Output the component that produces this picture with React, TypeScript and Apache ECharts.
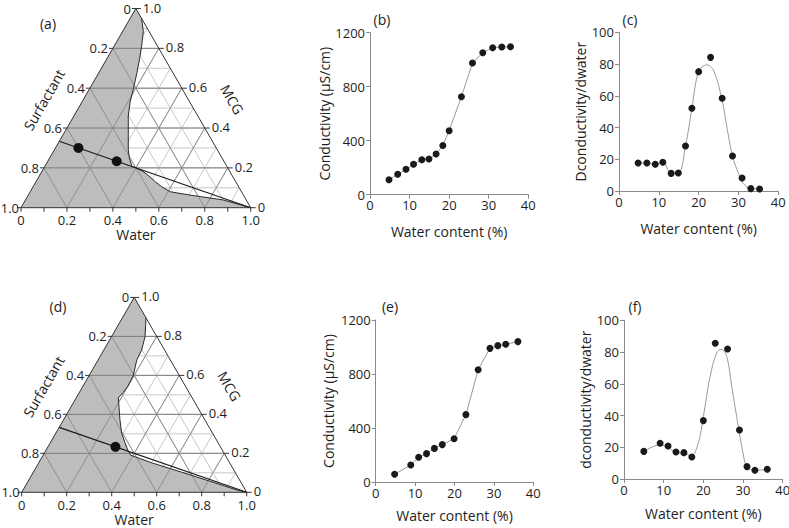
import React, { useEffect, useRef } from "react";
import * as echarts from "echarts";

const FONT = '"Open Sans", "Noto Sans", sans-serif';
const TEXT = "#1e1e1e";
const AXIS = "#8a8a8a";

// ---------- Ternary diagrams (a) and (d): points are [water, MCG]; surfactant = 1 - water - MCG
const ternaryTicks = [0, 0.2, 0.4, 0.6, 0.8, 1.0];
const ternaryTickLabels = ["0", "0.2", "0.4", "0.6", "0.8", "1.0"];
const boundaryA = [
  [0.05, 0.95], [0.09, 0.885], [0.12, 0.81], [0.14, 0.755], [0.167, 0.674], [0.19, 0.6],
  [0.21, 0.53], [0.237, 0.46], [0.267, 0.4], [0.297, 0.34], [0.322, 0.29], [0.35, 0.245],
  [0.38, 0.207], [0.4, 0.2], [0.44, 0.182], [0.47, 0.164], [0.52, 0.13], [0.56, 0.105],
  [0.61, 0.08], [0.7, 0.064], [0.86, 0.039], [1, 0],
];
const boundaryD = [
  [0.105, 0.895], [0.149, 0.798], [0.168, 0.73], [0.172, 0.679], [0.196, 0.6], [0.2, 0.545],
  [0.195, 0.514], [0.187, 0.485], [0.25, 0.373], [0.292, 0.304], [0.333, 0.253], [0.369, 0.21],
  [0.39, 0.19], [0.5, 0.152], [0.66, 0.103], [0.83, 0.05], [0.95, 0.012], [1, 0],
];
const dilutionLine = [[0, 0.3333], [1, 0]];
const dotsA = [[0.1, 0.3], [0.3, 0.2333]];
const dotsD = [[0.3, 0.2333]];

// ---------- (b) conductivity and (c) derivative
const waterB = [4.8, 7.0, 9.1, 11.0, 13.1, 14.9, 16.7, 18.4, 20.0, 23.1, 25.9, 28.5, 31.0, 33.3, 35.5];
const condB = [111, 151, 188, 225, 259, 264, 301, 365, 474, 726, 975, 1052, 1089, 1094, 1096];
const waterC = [4.8, 7.0, 9.1, 11.0, 13.1, 14.9, 16.7, 18.3, 20.0, 23.0, 25.9, 28.5, 30.9, 33.1, 35.3];
const derivC = [17.6, 17.6, 16.8, 18.1, 11.1, 11.3, 28.4, 52.1, 75.2, 84.2, 58.4, 22.1, 8.2, 1.5, 1.3];
const fitCx = [4.8, 7.0, 9.1, 11.0, 13.1, 14.9, 16.7, 18.3, 19.7, 20.9, 22.1, 23.8, 25.9, 27.0, 28.5, 30.0, 31.2, 33.1, 35.3];
const fitCy = [17.6, 17.6, 16.8, 18.1, 11.1, 11.3, 28.4, 52.1, 73, 78.4, 79.4, 75.6, 57, 41.6, 22.1, 11.1, 4.8, 1.5, 1.3];

// ---------- (e) conductivity and (f) derivative
const waterE = [4.8, 8.9, 10.9, 12.9, 14.9, 16.9, 19.9, 22.9, 26.0, 29.0, 31.0, 33.0, 36.1];
const condE = [57, 126, 183, 210, 249, 277, 321, 499, 832, 990, 1010, 1020, 1040];
const waterF = [5.0, 9.1, 11.1, 13.1, 15.1, 17.1, 20.0, 23.0, 26.1, 29.1, 31.0, 33.0, 36.1];
const derivF = [17.4, 22.5, 20.8, 17.0, 16.6, 13.9, 36.8, 85.5, 81.9, 30.9, 7.8, 5.5, 6.1];
const fitFx = [5.0, 9.1, 11.1, 13.1, 15.1, 16.9, 18.7, 20.0, 21.7, 23.4, 24.5, 25.9, 27.1, 28.4, 30.1, 31.0, 33.0, 36.1];
const fitFy = [17.4, 21.4, 20.0, 16.6, 16.2, 14.7, 22.5, 39.3, 64.5, 79.6, 81.7, 77.1, 59.2, 39.3, 15.1, 7.8, 5.5, 6.1];

const xTicks = [0, 10, 20, 30, 40];

const zip = (xs: number[], ys: number[]) => xs.map((x, i) => [x, ys[i]]);
const toCart = (pts: number[][]) => pts.map(([w, m]) => [w + m / 2, m]);

function makeTernaryRender(boundary: number[][]) {
  return (_params: any, api: any) => {
    const P = (w: number, m: number) => api.coord([w + m / 2, m]) as number[];
    const ch: any[] = [];
    const seg = (a: number[], b: number[], stroke: string, lw = 1) => ({
      type: "line",
      silent: true,
      shape: { x1: a[0], y1: a[1], x2: b[0], y2: b[1] },
      style: { stroke, lineWidth: lw },
    });
    const txt = (x: number, y: number, text: string, align: string, vAlign: string, rotation = 0, size = 13) => ({
      type: "text",
      silent: true,
      x,
      y,
      rotation,
      style: {
        text,
        x: 0,
        y: 0,
        fill: TEXT,
        font: `${size}px ${FONT}`,
        align,
        verticalAlign: vAlign,
        textAlign: align,
        textVerticalAlign: vAlign,
      },
    });
    // minor grid
    for (let i = 1; i <= 9; i++) {
      const v = i / 10;
      ch.push(seg(P(0, v), P(1 - v, v), "#c8c8c8"));
      ch.push(seg(P(v, 0), P(v, 1 - v), "#c8c8c8"));
      ch.push(seg(P(v, 0), P(0, v), "#c8c8c8"));
    }
    // grey (single phase) region
    const poly = [P(0, 0), P(0, 1), ...boundary.map(([w, m]) => P(w, m))];
    ch.push({ type: "polygon", silent: true, shape: { points: poly }, style: { fill: "#bdbdbd" } });
    // major grid
    for (let i = 2; i <= 8; i += 2) {
      const v = i / 10;
      ch.push(seg(P(0, v), P(1 - v, v), "#7c7c7c"));
      ch.push(seg(P(v, 0), P(v, 1 - v), "#8e8e8e"));
      ch.push(seg(P(v, 0), P(0, v), "#8e8e8e"));
    }
    // boundary
    ch.push({
      type: "polyline",
      silent: true,
      shape: { points: boundary.map(([w, m]) => P(w, m)) },
      style: { stroke: "#2a2a2a", lineWidth: 1, fill: "none" },
    });
    // dilution line
    ch.push(seg(P(dilutionLine[0][0], dilutionLine[0][1]), P(dilutionLine[1][0], dilutionLine[1][1]), "#1a1a1a", 1.2));
    // outline
    ch.push({
      type: "polygon",
      silent: true,
      shape: { points: [P(0, 0), P(1, 0), P(0, 1)] },
      style: { fill: "none", stroke: "#333", lineWidth: 1 },
    });
    // bottom ticks
    for (let i = 0; i <= 10; i++) {
      const p = P(i / 10, 0);
      ch.push(seg(p, [p[0], p[1] + 4], "#333"));
    }
    ternaryTicks.forEach((t, i) => {
      const lab = ternaryTickLabels[i];
      const b = P(t, 0);
      ch.push(txt(b[0], b[1] + 6, lab, "center", "top"));
      const l = P(0, 1 - t);
      ch.push(seg(l, [l[0] - 4, l[1]], "#333"));
      ch.push(txt(l[0] - (t === 1 ? 2 : 5), l[1], lab, "right", "middle"));
      const r = P(1 - t, t);
      ch.push(seg(r, [r[0] + 5, r[1]], "#333"));
      ch.push(txt(r[0] + 7, r[1] - 1, lab, "left", "middle"));
    });
    const base = P(0.5, 0);
    ch.push(txt(base[0], base[1] + 27, "Water", "center", "middle", 0, 14));
    const ml = P(0, 0.5);
    ch.push(txt(ml[0] - 0.866 * 34 - 0.5 * 10, ml[1] - 0.5 * 34 + 0.866 * 10, "Surfactant", "center", "middle", Math.PI / 3, 14));
    const mr = P(0.5, 0.5);
    ch.push(txt(mr[0] + 0.866 * 38 + 0.5 * 12, mr[1] - 0.5 * 38 + 0.866 * 12, "MCG", "center", "middle", -Math.PI / 3, 14));
    return { type: "group", children: ch };
  };
}

const labelStyle = { color: TEXT, fontSize: 13, fontFamily: FONT, formatter: (v: number) => String(v) };
const nameStyle = { color: TEXT, fontSize: 14, fontFamily: FONT };

function hiddenAxis(gi: number) {
  return { type: "value", gridIndex: gi, min: 0, max: 1, show: false };
}

function xAxisFor(gi: number, gap: number) {
  return {
    type: "value",
    gridIndex: gi,
    min: xTicks[0],
    max: xTicks[xTicks.length - 1],
    interval: 10,
    name: "Water content (%)",
    nameLocation: "middle",
    nameGap: gap,
    nameTextStyle: nameStyle,
    axisLine: { show: true, onZero: false, lineStyle: { color: AXIS, width: 1 } },
    axisTick: { show: true, length: 4, lineStyle: { color: AXIS } },
    axisLabel: { ...labelStyle, margin: 4 },
    splitLine: { show: false },
  };
}

function yAxisFor(gi: number, max: number, interval: number, name: string, gap: number) {
  return {
    type: "value",
    gridIndex: gi,
    min: 0,
    max,
    interval,
    name,
    nameLocation: "middle",
    nameRotate: 90,
    nameGap: gap,
    nameTextStyle: nameStyle,
    axisLine: { show: true, lineStyle: { color: AXIS, width: 1 } },
    axisTick: { show: true, length: 4, lineStyle: { color: AXIS } },
    axisLabel: { ...labelStyle, margin: 5 },
    splitLine: { show: false },
  };
}

const dotStyle = { color: "#1a1a1a", opacity: 1 };
const curveStyle = { color: "#9a9a9a", width: 1 };

function panelLabel(text: string, x: number, y: number) {
  return {
    type: "text",
    x,
    y,
    silent: true,
    style: {
      text,
      fill: TEXT,
      font: `14px ${FONT}`,
      align: "center",
      verticalAlign: "middle",
      textAlign: "center",
      textVerticalAlign: "middle",
    },
  };
}

export default function App() {
  const ref = useRef<HTMLDivElement>(null);
  useEffect(() => {
    if (!ref.current) return;
    const chart = echarts.init(ref.current, undefined, { renderer: "svg" });
    const option: any = {
      animation: false,
      backgroundColor: "#ffffff",
      grid: [
        { left: 21, top: 8.5, width: 229.7, height: 199.2, outerBoundsMode: "none" },
        { left: 370, top: 32.7, width: 158.3, height: 162, outerBoundsMode: "none" },
        { left: 619, top: 32.3, width: 159.3, height: 158.7, outerBoundsMode: "none" },
        { left: 21.7, top: 297.4, width: 225, height: 194.9, outerBoundsMode: "none" },
        { left: 375.7, top: 320, width: 157.6, height: 162, outerBoundsMode: "none" },
        { left: 624, top: 320.3, width: 158.7, height: 158.7, outerBoundsMode: "none" },
      ],
      xAxis: [hiddenAxis(0), xAxisFor(1, 30), xAxisFor(2, 30), hiddenAxis(3), xAxisFor(4, 26), xAxisFor(5, 27)],
      yAxis: [
        hiddenAxis(0),
        yAxisFor(1, 1200, 400, "Conductivity (µS/cm)", 36),
        yAxisFor(2, 100, 20, "Dconductivity/dwater", 29),
        hiddenAxis(3),
        yAxisFor(4, 1200, 400, "Conductivity (µS/cm)", 40),
        yAxisFor(5, 100, 20, "dconductivity/dwater", 32),
      ],
      graphic: [
        panelLabel("(a)", 48, 23),
        panelLabel("(b)", 382, 19),
        panelLabel("(c)", 630, 19),
        panelLabel("(d)", 58, 306),
        panelLabel("(e)", 390, 306),
        panelLabel("(f)", 635, 306),
      ],
      series: [
        {
          type: "custom",
          xAxisIndex: 0,
          yAxisIndex: 0,
          data: [[0.5, 0.5]],
          renderItem: makeTernaryRender(boundaryA),
          z: 1,
          silent: true,
        },
        {
          type: "scatter",
          xAxisIndex: 0,
          yAxisIndex: 0,
          data: toCart(dotsA),
          symbolSize: 10,
          itemStyle: { color: "#111", opacity: 1 },
          z: 5,
        },
        {
          type: "custom",
          xAxisIndex: 3,
          yAxisIndex: 3,
          data: [[0.5, 0.5]],
          renderItem: makeTernaryRender(boundaryD),
          z: 1,
          silent: true,
        },
        {
          type: "scatter",
          xAxisIndex: 3,
          yAxisIndex: 3,
          data: toCart(dotsD),
          symbolSize: 10,
          itemStyle: { color: "#111", opacity: 1 },
          z: 5,
        },
        {
          type: "line",
          xAxisIndex: 1,
          yAxisIndex: 1,
          data: zip(waterB, condB),
          symbol: "circle",
          symbolSize: 7,
          itemStyle: dotStyle,
          lineStyle: curveStyle,
        },
        {
          type: "line",
          xAxisIndex: 2,
          yAxisIndex: 2,
          data: zip(fitCx, fitCy),
          smooth: 0.4,
          showSymbol: false,
          lineStyle: curveStyle,
        },
        {
          type: "scatter",
          xAxisIndex: 2,
          yAxisIndex: 2,
          data: zip(waterC, derivC),
          symbolSize: 7,
          itemStyle: dotStyle,
          z: 5,
        },
        {
          type: "line",
          xAxisIndex: 4,
          yAxisIndex: 4,
          data: zip(waterE, condE),
          symbol: "circle",
          symbolSize: 7,
          itemStyle: dotStyle,
          lineStyle: curveStyle,
        },
        {
          type: "line",
          xAxisIndex: 5,
          yAxisIndex: 5,
          data: zip(fitFx, fitFy),
          smooth: 0.4,
          showSymbol: false,
          lineStyle: curveStyle,
        },
        {
          type: "scatter",
          xAxisIndex: 5,
          yAxisIndex: 5,
          data: zip(waterF, derivF),
          symbolSize: 7,
          itemStyle: dotStyle,
          z: 5,
        },
      ],
    };
    chart.setOption(option);
    return () => chart.dispose();
  }, []);
  return (
    <div
      ref={ref}
      style={{ position: "absolute", left: 0, top: 0, width: 789, height: 528, background: "#fff" }}
    />
  );
}
